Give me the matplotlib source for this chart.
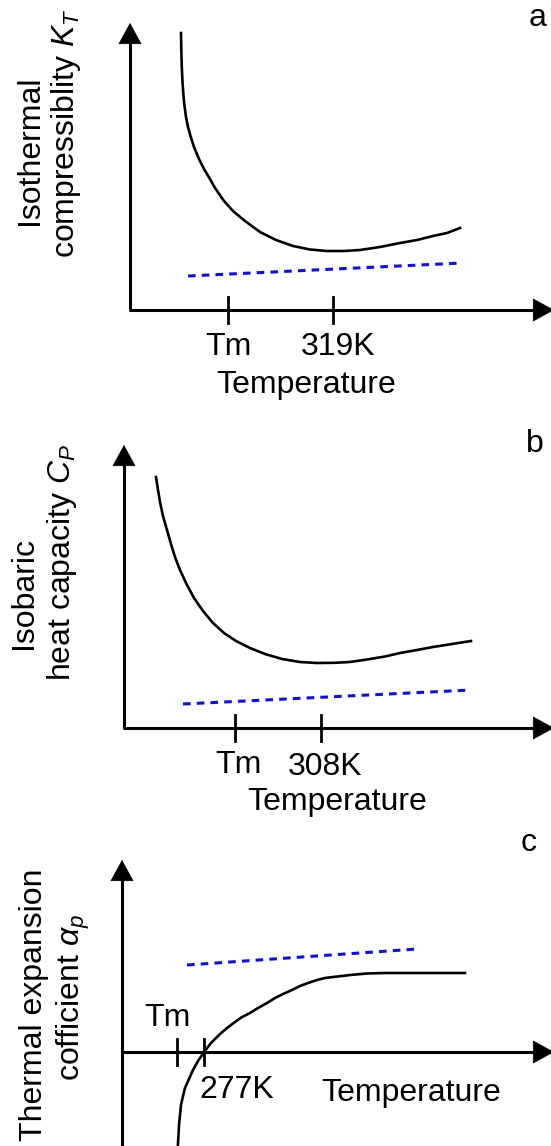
import matplotlib.pyplot as plt
from matplotlib.patches import ArrowStyle

plt.rcParams["font.family"] = ["Liberation Sans", "DejaVu Sans"]
plt.rcParams["mathtext.fontset"] = "custom"
plt.rcParams["mathtext.rm"] = "Liberation Sans"
plt.rcParams["mathtext.it"] = "Liberation Sans:italic"

W, H = 551, 1146
FS = 23

# -------------------------------------------------------
# Schematic data (arbitrary units, origin at the axes corner)
# -------------------------------------------------------

# a: isothermal compressibility
kt_temp = [51, 51.3, 51.8, 52.6, 54, 56, 58, 60.5, 64, 69, 74, 80, 85, 94, 103, 115, 130,
           146, 163, 180, 197, 214, 230, 250, 270, 287, 303, 317, 330]
kt_val = [277, 260, 243, 226, 208, 193, 183, 174, 163, 151, 141, 131, 122, 109, 99, 89, 78,
          70, 64, 60.5, 59, 59, 60, 63, 67, 70, 74, 77, 82]
kt_ref_temp = [58, 332]
kt_ref_val = [34, 47]
kt_ticks = [98, 203]
kt_tick_labels = ["Tm", "319K"]

# b: isobaric heat capacity
cp_temp = [32, 34, 36, 39, 43, 47, 51, 56, 62, 70, 79, 89, 100, 112, 126, 141, 158, 176,
           193, 211, 226, 243, 261, 276, 293, 309, 328, 347]
cp_val = [251, 238, 226, 212, 198, 184, 171, 158, 145, 130, 117, 105, 95, 87, 80, 74, 69, 66,
          65, 65.2, 66, 68.5, 71.5, 75, 78, 81, 84, 87]
cp_ref_temp = [59, 347]
cp_ref_val = [24, 38]
cp_ticks = [111, 197]
cp_tick_labels = ["Tm", "308K"]

# c: thermal expansion coefficient
ap_temp = [55.5, 56.5, 57, 58, 59, 61, 63, 67, 71, 76, 82, 89, 98, 105, 113, 120, 128, 136,
           145, 153, 161, 170, 178, 186, 195, 203, 211, 220, 228, 245, 263, 278, 343]
ap_val = [-100, -83, -73, -63, -53, -44, -36, -27, -18, -9, 0, 9, 18, 24, 30, 35, 39, 44,
          49, 54, 58, 62, 66, 69, 72, 74, 75, 76, 77, 78.5, 79, 79, 79]
ap_ref_temp = [65, 295]
ap_ref_val = [87, 103]
ap_ticks = [55, 82]
ap_tick_labels = ["Tm", "277K"]

arrow = ArrowStyle("-|>", head_length=0.4, head_width=0.22)


def panel(origin, top, bottom):
    ox, oy = origin
    ax = fig.add_axes([0, 1 - bottom / H, 1, (bottom - top) / H])
    ax.set_xlim(-ox, W - ox)
    ax.set_ylim(oy - bottom, oy - top)
    ax.axis("off")
    return ax


def head(ax, tip, tail):
    ax.annotate("", xy=tip, xytext=tail, annotation_clip=False,
                arrowprops=dict(arrowstyle=arrow, mutation_scale=36, color="black",
                                lw=0.5, shrinkA=0, shrinkB=0))


def draw_axes(ax, ytip, ybottom, xtip):
    ax.plot([0, 0], [ybottom, ytip - 10], color="black", lw=2.2, solid_capstyle="butt")
    head(ax, (0, ytip), (0, ytip - 12))
    ax.plot([-1, xtip - 10], [0, 0], color="black", lw=2.2, solid_capstyle="butt")
    head(ax, (xtip, 0), (xtip - 12, 0))


def draw_ticks(ax, ticks):
    for t in ticks:
        ax.plot([t, t], [-13, 13], color="black", lw=2.0)


def curve(ax, x, y):
    ax.plot(x, y, color="black", lw=1.9, solid_joinstyle="round")


def reference(ax, x, y):
    ax.plot(x, y, color="#1010d0", lw=2.2, dashes=(2.5, 2))


fig = plt.figure(figsize=(W / 100, H / 100), dpi=100)
fig.patch.set_facecolor("white")

# -------------------------------------------------------
# Panel a
# -------------------------------------------------------
ax = panel((130, 310), 0, 430)
draw_axes(ax, 287, 0, W - 130 + 3)
draw_ticks(ax, kt_ticks)
curve(ax, kt_temp, kt_val)
reference(ax, kt_ref_temp, kt_ref_val)
ax.text(98, -37, kt_tick_labels[0], fontsize=FS, ha="center", va="center")
ax.text(208, -37, kt_tick_labels[1], fontsize=FS, ha="center", va="center")
ax.text(176, -75, "Temperature", fontsize=FS, ha="center", va="center")
ax.text(408, 292, "a", fontsize=FS, ha="center", va="center")
ax.text(-100, 160, "Isothermal", fontsize=FS, rotation=90, ha="center", va="center")
ax.text(-64, 177, "compressiblity $K_T$", fontsize=FS, rotation=90, ha="center", va="center")

# -------------------------------------------------------
# Panel b
# -------------------------------------------------------
ax = panel((124, 728), 430, 830)
draw_axes(ax, 283, 0, W - 124 + 3)
draw_ticks(ax, cp_ticks)
curve(ax, cp_temp, cp_val)
reference(ax, cp_ref_temp, cp_ref_val)
ax.text(114, -37, cp_tick_labels[0], fontsize=FS, ha="center", va="center")
ax.text(201, -39, cp_tick_labels[1], fontsize=FS, ha="center", va="center")
ax.text(213, -74, "Temperature", fontsize=FS, ha="center", va="center")
ax.text(411, 284, "b", fontsize=FS, ha="center", va="center")
ax.text(-100, 135, "Isobaric", fontsize=FS, rotation=90, ha="center", va="center")
ax.text(-62, 166, "heat capacity $C_P$", fontsize=FS, rotation=90, ha="center", va="center")

# -------------------------------------------------------
# Panel c
# -------------------------------------------------------
ax = panel((122, 1052), 830, 1146)
draw_axes(ax, 192, -110, W - 122 + 3)
draw_ticks(ax, ap_ticks)
curve(ax, ap_temp, ap_val)
reference(ax, ap_ref_temp, ap_ref_val)
ax.text(45, 34, ap_tick_labels[0], fontsize=FS, ha="center", va="center")
ax.text(115, -38, ap_tick_labels[1], fontsize=FS, ha="center", va="center")
ax.text(289, -41, "Temperature", fontsize=FS, ha="center", va="center")
ax.text(407, 209, "c", fontsize=FS, ha="center", va="center")
ax.text(-88, 47, "Thermal expansion", fontsize=FS, rotation=90, ha="center", va="center")
ax.text(-49, 55, r"cofficient $\alpha_p$", fontsize=FS, rotation=90, ha="center", va="center")

fig.savefig("out.png", dpi=100, facecolor="white")
